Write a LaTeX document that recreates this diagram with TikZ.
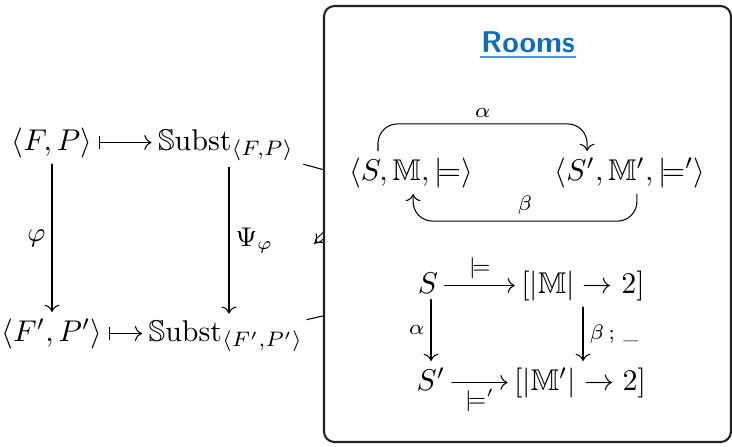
\documentclass[tikz,border=0pt]{standalone}
\usepackage{amssymb}
\usepackage{xcolor}
\definecolor{roomblue}{HTML}{0B6DBF}
\definecolor{roomline}{HTML}{4F97D6}
\definecolor{boxdraw}{HTML}{222222}
\usetikzlibrary{arrows.meta,calc}
\tikzset{
  every picture/.style={line cap=round, line join=round},
  obj/.style={inner sep=2pt, anchor=base},
  map/.style={->, line width=0.35pt},
  mapsto/.style={|->, line width=0.35pt},
  loopmap/.style={->, line width=0.35pt, rounded corners=6.5pt},
  lbl/.style={font=\small, inner sep=2pt},
  slbl/.style={font=\scriptsize, inner sep=2pt},
  twocell/.style={double, double distance=1.2pt, line width=0.35pt, -{Implies}},
  roombox/.style={fill=white, draw=boxdraw, line width=0.7pt, rounded corners=3.5pt},
  roomtitle/.style={font=\sffamily\bfseries, text=roomblue, inner sep=0pt, anchor=base},
}

\begin{document}
\begin{tikzpicture}[x=0.3333pt, y=-0.3333pt]
\useasboundingbox (0,0) rectangle (732,446);
% left square
\node[obj] (fp)   at (52,150)  {$\langle F,P\rangle$};
\node[obj] (sfp)  at (226,150) {$\mathbb{S}\mathrm{ubst}_{\langle F,P\rangle}$};
\node[obj] (fp2)  at (52,341)  {$\langle F',P'\rangle$};
\node[obj] (sfp2) at (226,341) {$\mathbb{S}\mathrm{ubst}_{\langle F',P'\rangle}$};
\draw[mapsto] ([yshift=2.5pt]fp.base east) -- ([yshift=2.5pt]sfp.base west);
\draw[mapsto] ([yshift=2.5pt]fp2.base east) -- ([yshift=2.5pt]sfp2.base west);
\draw[map] (fp) -- node[lbl, left=0pt] {$\varphi$} (fp2);
\draw[map] ([xshift=1pt]sfp.south) -- ([xshift=1pt]sfp.south |- sfp2.north)
  node[lbl, midway, right=0pt] {$\Psi_\varphi$};
% edges running under the box
\coordinate (ct) at (420,196);
\coordinate (cb) at (420,294);
\draw[line width=0.35pt] ([xshift=1pt,yshift=1pt]sfp.south east) -- (ct);
\draw[line width=0.35pt] ([xshift=-1pt,yshift=-2pt]sfp2.north east) -- (cb);
\coordinate (ca) at (345,216);
\coordinate (cz) at (314,244);
\draw[twocell] (ca) -- (cz);
% rooms box
\draw[roombox] (324,6) rectangle (731,442);
\node[roomtitle] (ttl) at (528,52) {Rooms};
\draw[roomline, line width=0.6pt] ([yshift=-1.7pt]ttl.base west) -- ([yshift=-1.7pt]ttl.base east);
% room morphism
\node[obj] (rs)  at (411,180) {$\langle S,\mathbb{M},\models\rangle$};
\node[obj] (rs2) at (630,180) {$\langle S',\mathbb{M}',\models'\rangle$};
\draw[loopmap] ([xshift=-11pt]rs.north) -- ++(0,-27) -| ([xshift=-14.3pt]rs2.north)
  node[slbl, pos=0.25, above] {$\alpha$};
\draw[loopmap] ([xshift=2.3pt]rs2.south) -- ++(0,27) -| ([xshift=0.7pt]rs.south)
  node[slbl, pos=0.25, above] {$\beta$};
% satisfaction condition
\node[obj] (s)  at (428,293) {$S$};
\node[obj] (m)  at (583,293) {$[|\mathbb{M}|\to 2]$};
\node[obj] (s2) at (431,390) {$S'$};
\node[obj] (m2) at (580,390) {$[|\mathbb{M}'|\to 2]$};
\draw[map] ([yshift=2.5pt]s.base east) -- node[slbl, above] {$\models$} ([yshift=2.5pt]m.base west);
\draw[map] ([yshift=2.5pt]s2.base east) -- node[slbl, below] {$\models'$} ([yshift=2.5pt]m2.base west);
\draw[map] (s.south -| s2) -- node[slbl, left] {$\alpha$} (s2);
\draw[map] (m.south) -- node[slbl, right] {$\beta\,;\,\mbox{\tiny\_}$} (m.south |- m2.north);
\end{tikzpicture}
\end{document}
